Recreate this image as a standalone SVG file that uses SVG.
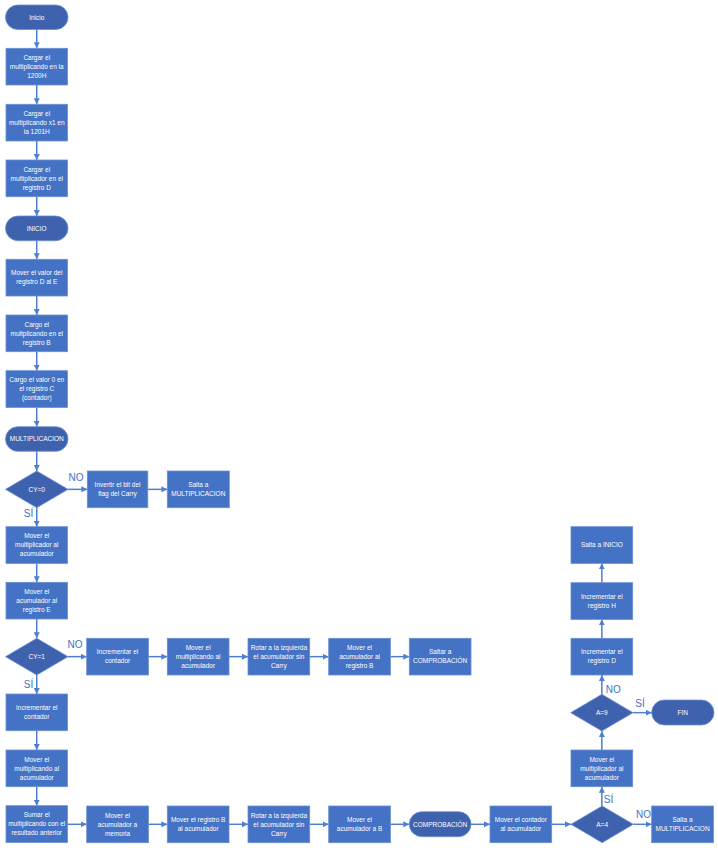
<svg xmlns="http://www.w3.org/2000/svg" width="718" height="848" viewBox="0 0 718 848">
<style>
.b{fill:#4472C4;stroke:#6B8FD4;stroke-width:0.8}
.t{fill:#3F62AE;stroke:#6B8FD4;stroke-width:0.8}
.d{fill:#3F62AE;stroke:#6B8FD4;stroke-width:0.8}
.x{font-family:"Liberation Sans",Arial,sans-serif;font-size:6.5px;fill:#ffffff;text-anchor:middle}
.l{font-family:"Liberation Sans",Arial,sans-serif;font-size:10px;fill:#4472C4;text-anchor:middle}
.c line{stroke:#4E7FD2;stroke-width:1.5;marker-end:url(#ah)}
</style>
<defs>
<marker id="ah" markerUnits="userSpaceOnUse" markerWidth="6" markerHeight="6" refX="6" refY="3" orient="auto">
<path d="M0,0 L6,3 L0,6 z" fill="#4E7FD2"/>
</marker>
</defs>
<rect width="718" height="848" fill="#ffffff"/>
<g id="connectors" class="c">
<line x1="36.75" y1="29.5" x2="36.75" y2="48.3"/>
<line x1="36.75" y1="85" x2="36.75" y2="104.3"/>
<line x1="36.75" y1="141" x2="36.75" y2="160"/>
<line x1="36.75" y1="196.7" x2="36.75" y2="216"/>
<line x1="36.75" y1="240.7" x2="36.75" y2="259.3"/>
<line x1="36.75" y1="296" x2="36.75" y2="315"/>
<line x1="36.75" y1="351.7" x2="36.75" y2="370.7"/>
<line x1="36.75" y1="407.4" x2="36.75" y2="426.7"/>
<line x1="36.75" y1="451.2" x2="36.75" y2="471"/>
<line x1="36.75" y1="507.7" x2="36.75" y2="526.7"/>
<line x1="36.75" y1="563.4" x2="36.75" y2="582.3"/>
<line x1="36.75" y1="619" x2="36.75" y2="638.3"/>
<line x1="36.75" y1="675" x2="36.75" y2="694"/>
<line x1="36.75" y1="730.7" x2="36.75" y2="750"/>
<line x1="36.75" y1="786.7" x2="36.75" y2="805.7"/>
<line x1="68" y1="489.35" x2="87.3" y2="489.35"/>
<line x1="147.8" y1="489.35" x2="167.3" y2="489.35"/>
<line x1="68" y1="656.65" x2="86.7" y2="656.65"/>
<line x1="148.4" y1="656.65" x2="167.3" y2="656.65"/>
<line x1="229" y1="656.65" x2="248" y2="656.65"/>
<line x1="309.7" y1="656.65" x2="328.7" y2="656.65"/>
<line x1="390.4" y1="656.65" x2="409.3" y2="656.65"/>
<line x1="67.5" y1="824.3" x2="86.7" y2="824.3"/>
<line x1="148.4" y1="824.3" x2="167.3" y2="824.3"/>
<line x1="229" y1="824.3" x2="248" y2="824.3"/>
<line x1="309.7" y1="824.3" x2="328.7" y2="824.3"/>
<line x1="390.4" y1="824.3" x2="409.3" y2="824.3"/>
<line x1="471" y1="824.3" x2="490" y2="824.3"/>
<line x1="551.7" y1="824.3" x2="571" y2="824.3"/>
<line x1="633.3" y1="824.3" x2="651.7" y2="824.3"/>
<line x1="601.85" y1="806" x2="601.85" y2="786.7"/>
<line x1="601.85" y1="750" x2="601.85" y2="731"/>
<line x1="601.85" y1="694.3" x2="601.85" y2="675"/>
<line x1="601.85" y1="638.3" x2="601.85" y2="619.3"/>
<line x1="601.85" y1="582.7" x2="601.85" y2="563.3"/>
<line x1="633" y1="712.65" x2="651.7" y2="712.65"/>
</g>
<g id="labels">
<text class="l" x="76" y="480.5">NO</text>
<text class="l" x="28.5" y="516.5">SÍ</text>
<text class="l" x="75" y="648">NO</text>
<text class="l" x="28.5" y="687.5">SÍ</text>
<text class="l" x="608.5" y="803">SÍ</text>
<text class="l" x="643.5" y="818">NO</text>
<text class="l" x="613.3" y="693">NO</text>
<text class="l" x="640" y="707">SÍ</text>
</g>
<g id="n-inicio"><rect class="t" x="5.5" y="5" width="62.5" height="24.5" rx="12.25"/><text class="x" x="36.75" y="19.55">Inicio</text></g>
<g id="n-b1"><rect class="b" x="6" y="48.3" width="61.5" height="36.7"/><text class="x" x="36.75" y="59.95">Cargar el</text><text class="x" x="36.75" y="68.95">multiplicando en la</text><text class="x" x="36.75" y="77.95">1200H</text></g>
<g id="n-b2"><rect class="b" x="6" y="104.3" width="61.5" height="36.7"/><text class="x" x="36.75" y="115.95">Cargar el</text><text class="x" x="36.75" y="124.95">multiplicando x1 en</text><text class="x" x="36.75" y="133.95">la 1201H</text></g>
<g id="n-b3"><rect class="b" x="6" y="160" width="61.5" height="36.7"/><text class="x" x="36.75" y="171.65">Cargar el</text><text class="x" x="36.75" y="180.65">multiplicador en el</text><text class="x" x="36.75" y="189.65">registro D</text></g>
<g id="n-inicio2"><rect class="t" x="5.5" y="216" width="62.5" height="24.7" rx="12.35"/><text class="x" x="36.75" y="230.65">INICIO</text></g>
<g id="n-b4"><rect class="b" x="6" y="259.3" width="61.5" height="36.7"/><text class="x" x="36.75" y="275.45">Mover el valor del</text><text class="x" x="36.75" y="284.45">registro D al E</text></g>
<g id="n-b5"><rect class="b" x="6" y="315" width="61.5" height="36.7"/><text class="x" x="36.75" y="326.65">Cargo el</text><text class="x" x="36.75" y="335.65">multplicando en el</text><text class="x" x="36.75" y="344.65">registro B</text></g>
<g id="n-b6"><rect class="b" x="6" y="370.7" width="61.5" height="36.7"/><text class="x" x="36.75" y="382.35">Cargo el valor 0 en</text><text class="x" x="36.75" y="391.35">el registro C</text><text class="x" x="36.75" y="400.35">(contador)</text></g>
<g id="n-mult"><rect class="t" x="5.5" y="426.7" width="62.5" height="24.6" rx="12.3"/><text class="x" x="36.75" y="441.3">MULTIPLICACION</text></g>
<g id="n-d1"><polygon class="d" points="36.75,471 68,489.35 36.75,507.7 5.5,489.35"/><text class="x" x="36.75" y="491.65">CY=0</text></g>
<g id="n-inv"><rect class="b" x="87.3" y="471" width="60.5" height="36.7"/><text class="x" x="117.55" y="487.15">Invertir el bit del</text><text class="x" x="117.55" y="496.15">flag del Carry</text></g>
<g id="n-salta1"><rect class="b" x="167.3" y="471" width="62" height="36.7"/><text class="x" x="198.3" y="487.15">Salta a</text><text class="x" x="198.3" y="496.15">MULTIPLICACION</text></g>
<g id="n-b7"><rect class="b" x="6" y="526.7" width="61.5" height="36.7"/><text class="x" x="36.75" y="538.35">Mover el</text><text class="x" x="36.75" y="547.35">multiplicador al</text><text class="x" x="36.75" y="556.35">acumulador</text></g>
<g id="n-b8"><rect class="b" x="6" y="582.3" width="61.5" height="36.7"/><text class="x" x="36.75" y="593.95">Mover el</text><text class="x" x="36.75" y="602.95">acumulador al</text><text class="x" x="36.75" y="611.95">registro E</text></g>
<g id="n-d2"><polygon class="d" points="36.75,638.3 68,656.65 36.75,675 5.5,656.65"/><text class="x" x="36.75" y="658.95">CY=1</text></g>
<g id="n-r1"><rect class="b" x="86.7" y="638.3" width="61.7" height="36.7"/><text class="x" x="117.55" y="654.45">Incrementar el</text><text class="x" x="117.55" y="663.45">contador</text></g>
<g id="n-r2"><rect class="b" x="167.3" y="638.3" width="61.7" height="36.7"/><text class="x" x="198.15" y="649.95">Mover el</text><text class="x" x="198.15" y="658.95">multiplicando al</text><text class="x" x="198.15" y="667.95">acumulador</text></g>
<g id="n-r3"><rect class="b" x="248" y="638.3" width="61.7" height="36.7"/><text class="x" x="278.85" y="649.95">Rotar a la izquierda</text><text class="x" x="278.85" y="658.95">el acumulador sin</text><text class="x" x="278.85" y="667.95">Carry</text></g>
<g id="n-r4"><rect class="b" x="328.7" y="638.3" width="61.7" height="36.7"/><text class="x" x="359.55" y="649.95">Mover el</text><text class="x" x="359.55" y="658.95">acumulador al</text><text class="x" x="359.55" y="667.95">registro B</text></g>
<g id="n-r5"><rect class="b" x="409.3" y="638.3" width="61.7" height="36.7"/><text class="x" x="440.15" y="654.45">Saltar a</text><text class="x" x="440.15" y="663.45">COMPROBACIÓN</text></g>
<g id="n-b9"><rect class="b" x="6" y="694" width="61.5" height="36.7"/><text class="x" x="36.75" y="710.15">Incrementar el</text><text class="x" x="36.75" y="719.15">contador</text></g>
<g id="n-b10"><rect class="b" x="6" y="750" width="61.5" height="36.7"/><text class="x" x="36.75" y="761.65">Mover el</text><text class="x" x="36.75" y="770.65">multiplicando al</text><text class="x" x="36.75" y="779.65">acumulador</text></g>
<g id="n-b11"><rect class="b" x="6" y="805.7" width="61.5" height="36.7"/><text class="x" x="36.75" y="817.35">Sumar el</text><text class="x" x="36.75" y="826.35">multiplicando con el</text><text class="x" x="36.75" y="835.35">resultado anterior</text></g>
<g id="n-s1"><rect class="b" x="86.7" y="806" width="61.7" height="36.7"/><text class="x" x="117.55" y="817.65">Mover el</text><text class="x" x="117.55" y="826.65">acumulador a</text><text class="x" x="117.55" y="835.65">memoria</text></g>
<g id="n-s2"><rect class="b" x="167.3" y="806" width="61.7" height="36.7"/><text class="x" x="198.15" y="822.15">Mover el registro B</text><text class="x" x="198.15" y="831.15">al acumulador</text></g>
<g id="n-s3"><rect class="b" x="248" y="806" width="61.7" height="36.7"/><text class="x" x="278.85" y="817.65">Rotar a la izquierda</text><text class="x" x="278.85" y="826.65">el acumulador sin</text><text class="x" x="278.85" y="835.65">Carry</text></g>
<g id="n-s4"><rect class="b" x="328.7" y="806" width="61.7" height="36.7"/><text class="x" x="359.55" y="822.15">Mover el</text><text class="x" x="359.55" y="831.15">acumulador a B</text></g>
<g id="n-comp"><rect class="t" x="409.3" y="811.7" width="61.7" height="25" rx="12.5"/><text class="x" x="440.15" y="826.5">COMPROBACIÓN</text></g>
<g id="n-s5"><rect class="b" x="490" y="806" width="61.7" height="36.7"/><text class="x" x="520.85" y="822.15">Mover el contador</text><text class="x" x="520.85" y="831.15">al acumulador</text></g>
<g id="n-d3"><polygon class="d" points="602.15,806 633.3,824.35 602.15,842.7 571,824.35"/><text class="x" x="602.15" y="826.65">A=4</text></g>
<g id="n-s6"><rect class="b" x="651.7" y="806" width="61.7" height="36.7"/><text class="x" x="682.55" y="822.15">Salta a</text><text class="x" x="682.55" y="831.15">MULTIPLICACION</text></g>
<g id="n-u1"><rect class="b" x="571" y="750" width="61.7" height="36.7"/><text class="x" x="601.85" y="761.65">Mover el</text><text class="x" x="601.85" y="770.65">multiplicador al</text><text class="x" x="601.85" y="779.65">acumulador</text></g>
<g id="n-d4"><polygon class="d" points="601.85,694.3 633,712.65 601.85,731 570.7,712.65"/><text class="x" x="601.85" y="714.95">A=9</text></g>
<g id="n-fin"><rect class="t" x="651.7" y="700" width="62.3" height="25" rx="12.5"/><text class="x" x="682.85" y="714.8">FIN</text></g>
<g id="n-u2"><rect class="b" x="571" y="638.3" width="61.7" height="36.7"/><text class="x" x="601.85" y="654.45">Incrementar el</text><text class="x" x="601.85" y="663.45">registro D</text></g>
<g id="n-u3"><rect class="b" x="571" y="582.7" width="61.7" height="36.7"/><text class="x" x="601.85" y="598.85">Incrementar el</text><text class="x" x="601.85" y="607.85">registro H</text></g>
<g id="n-u4"><rect class="b" x="571" y="526.7" width="61.7" height="36.7"/><text class="x" x="601.85" y="547.35">Salta a INICIO</text></g>
</svg>
